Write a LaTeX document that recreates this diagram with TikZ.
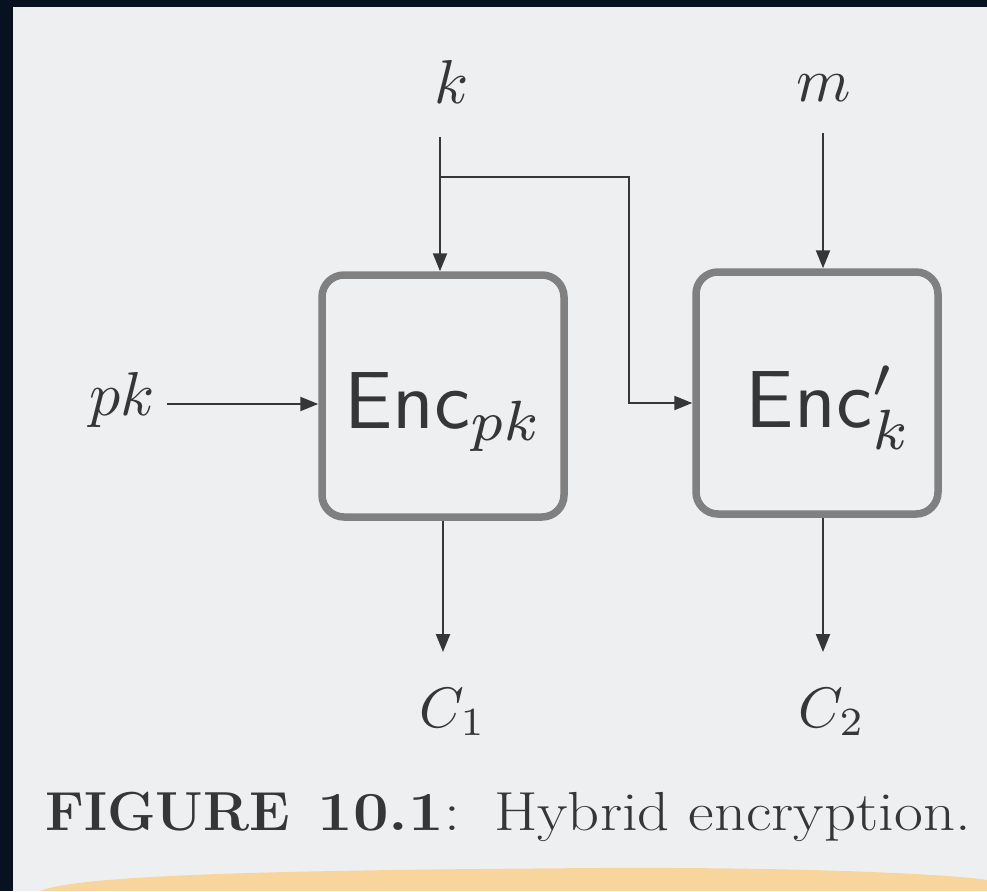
\documentclass[tikz,border=0pt]{standalone}
\usepackage{graphicx}
\usetikzlibrary{arrows.meta,calc}
\definecolor{navy}{HTML}{07111F}
\definecolor{paper}{HTML}{EEEFF1}
\definecolor{ink}{HTML}{363636}
\definecolor{boxgray}{HTML}{808080}
\definecolor{peach}{HTML}{F7D59C}
\begin{document}
\begin{tikzpicture}[x=1pt,y=-1pt,
  encbox/.style={draw=boxgray,line width=7.5pt,rounded corners=22pt,minimum width=242pt,minimum height=242pt,inner sep=0pt},
  arr/.style={draw=ink,line width=2.2pt,-{Triangle[length=18pt,width=14pt]}},
  lab/.style={text=ink,inner sep=0pt,anchor=base,scale=6.2},
  outlab/.style={text=ink,inner sep=0pt,anchor=base,scale=5.7},
  enc/.style={text=ink,inner sep=0pt,anchor=base,scale=8.1},
  captext/.style={text=ink,inner sep=0pt,anchor=base west,font=\fontsize{55}{64}\selectfont}]
\useasboundingbox (0,0) rectangle (987,891);
\fill[paper] (0,0) rectangle (987,891);
\fill[peach] (40,891) .. controls (80,874) and (300,870) .. (600,868) .. controls (800,867) and (950,874) .. (987,880) -- (987,891) -- cycle;
\fill[navy] (0,0) rectangle (987,7);
\fill[navy] (0,0) rectangle (13,891);
% boxes
\node[encbox] (e1) at (443,396) {};
\node[encbox] (e2) at (817,393) {};
\node[enc] (t1) at (444,428) {\textsf{Enc}$_{pk}$};
\node[enc] (t2) at (829,427) {\textsf{Enc}$'_{k}$};
% labels
\node[lab] (k) at (452,103) {$k$};
\node[lab] (m) at (824,101) {$m$};
\node[lab] (pk) at (122,415) {$pk$};
\node[outlab] (c1) at (453,727) {$C_1$};
\node[outlab] (c2) at (832,727) {$C_2$};
% connectors
\coordinate (kt) at (440,137);
\coordinate (br) at (440,177);
\coordinate (bc) at (629,403);
\coordinate (mt) at (823,133);
\coordinate (pks) at (167,404);
\coordinate (c1t) at (443,652);
\coordinate (c2t) at (823,652);
\draw[arr] (kt) -- (kt |- e1.north);
\draw[arr] (br) -| (bc) -- (bc -| e2.west);
\draw[arr] (mt) -- (mt |- e2.north);
\draw[arr] (pks) -- (pks -| e1.west);
\draw[arr] (c1t |- e1.south) -- (c1t);
\draw[arr] (c2t |- e2.south) -- (c2t);
% caption
\node[captext] (caption) at (45,830) {\textbf{FIGURE}\hspace{0.5em}\scalebox{1.15}[1]{\textbf{10.1}:}\hspace{0.62em}\scalebox{1.14}[1]{Hybrid encryption.}};
\end{tikzpicture}
\end{document}
